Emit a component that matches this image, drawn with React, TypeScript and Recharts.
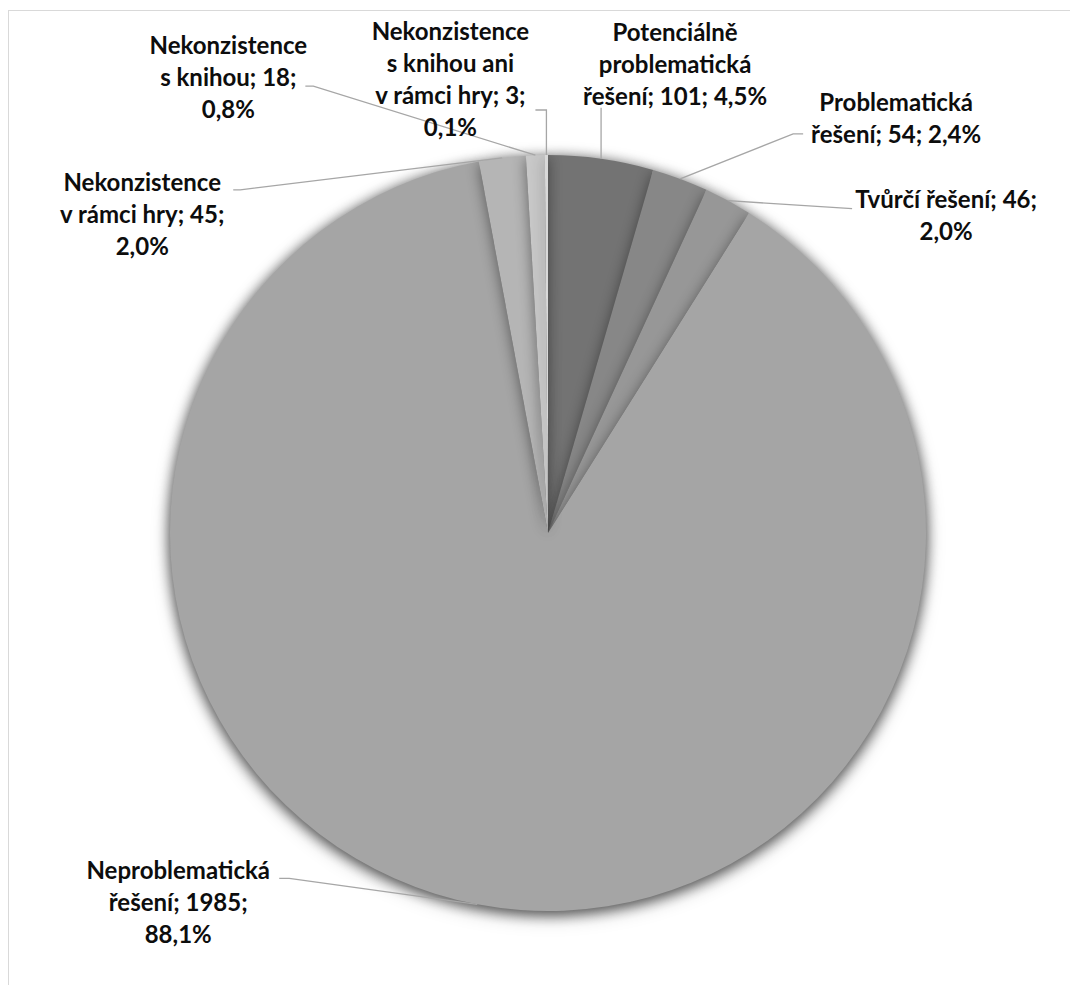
import React from "react";
import { PieChart, Pie, Cell } from "recharts";

const CATEGORIES = [
  "Potenciálně problematická řešení",
  "Problematická řešení",
  "Tvůrčí řešení",
  "Neproblematická řešení",
  "Nekonzistence v rámci hry",
  "Nekonzistence s knihou",
  "Nekonzistence s knihou ani v rámci hry",
];
const VALUES = [101, 54, 46, 1985, 45, 18, 3];
const COLORS = ["#737373", "#878787", "#979797", "#a5a5a5", "#b5b5b5", "#c8c8c8", "#d9d9d9"];

const TOTAL = VALUES.reduce((a, b) => a + b, 0);
const pct = (v: number) => ((v / TOTAL) * 100).toFixed(1).replace(".", ",") + "%";

// how the text of each label wraps (number of words per line)
const LABEL_WRAP = [
  [1, 1, 3],
  [1, 3],
  [3, 1],
  [1, 2, 1],
  [1, 4, 1],
  [1, 3, 1],
  [1, 3, 4, 1],
];

const data = CATEGORIES.map((name, i) => ({ name, value: VALUES[i] }));

function labelLines(i: number): string[] {
  const words = `${CATEGORIES[i]}; ${VALUES[i]}; ${pct(VALUES[i])}`.split(" ");
  const out: string[] = [];
  let k = 0;
  for (const n of LABEL_WRAP[i]) {
    out.push(words.slice(k, k + n).join(" "));
    k += n;
  }
  return out;
}

// label placement, relative to the slice's outer-edge midpoint
const LABEL_LAYOUT = [
  { dx: 74, dy: -118, leader: [[0, -51]] },
  { dx: 216, dy: -68, leader: [[113, -45], [123, -45]] },
  { dx: 218, dy: 7, leader: [[124, 8]] },
  { dx: -299, dy: -25, leader: [[-188, -26], [-198, -26]] },
  { dx: -360, dy: 33, leader: [[-262, 32], [-269, 32]] },
  { dx: -307, dy: -101, leader: [[-222, -69], [-230, -69]] },
  { dx: -96, dy: -115, leader: [[0, -45], [-11, -45]] },
];

const RAD = Math.PI / 180;
const LINE_H = 32;

const renderLabel = (props: any) => {
  const { cx, cy, midAngle, outerRadius, index } = props;
  const ex = cx + outerRadius * Math.cos(-midAngle * RAD);
  const ey = cy + outerRadius * Math.sin(-midAngle * RAD);
  const lay = LABEL_LAYOUT[index];
  const pts = [[ex, ey], ...lay.leader.map(([x, y]) => [ex + x, ey + y])];
  const lines = labelLines(index);
  return (
    <g key={`lbl-${index}`}>
      <polyline
        points={pts.map((p) => p.join(",")).join(" ")}
        fill="none"
        stroke="#a6a6a6"
        strokeWidth={1.3}
      />
      <text
        x={ex + lay.dx}
        y={ey + lay.dy}
        textAnchor="middle"
        fontFamily="Lato, 'Open Sans', sans-serif"
        fontWeight={700}
        fontSize={24}
        fill="#0d0d0d"
      >
        {lines.map((l, j) => (
          <tspan key={j} x={ex + lay.dx} y={ey + lay.dy + j * LINE_H}>
            {l}
          </tspan>
        ))}
      </text>
    </g>
  );
};

export default function App() {
  return (
    <div
      style={{
        position: "relative",
        top: 2,
        width: 1070,
        height: 977,
        boxSizing: "border-box",
        borderTop: "1px solid #d9d9d9",
        borderLeft: "1px solid #d9d9d9",
        background: "#fff",
      }}
    >
      <style>{"html,body{overflow:hidden;background:#fff}.pie-main{filter:drop-shadow(0px 3px 7px rgba(0,0,0,0.45));}"}</style>
      <PieChart width={1069} height={976} margin={{ top: 0, right: 0, bottom: 0, left: 0 }}>
        <Pie
          className="pie-main"
          data={data}
          dataKey="value"
          nameKey="name"
          cx={539}
          cy={522}
          outerRadius={378}
          startAngle={90}
          endAngle={-270}
          stroke="none"
          isAnimationActive={false}
          labelLine={false}
        >
          {data.map((d, i) => (
            <Cell key={d.name} fill={COLORS[i]} stroke="none" />
          ))}
        </Pie>
        <Pie
          data={data}
          dataKey="value"
          nameKey="name"
          cx={539}
          cy={522}
          outerRadius={378}
          startAngle={90}
          endAngle={-270}
          fill="transparent"
          stroke="none"
          isAnimationActive={false}
          labelLine={false}
          label={renderLabel}
        />
      </PieChart>
    </div>
  );
}
